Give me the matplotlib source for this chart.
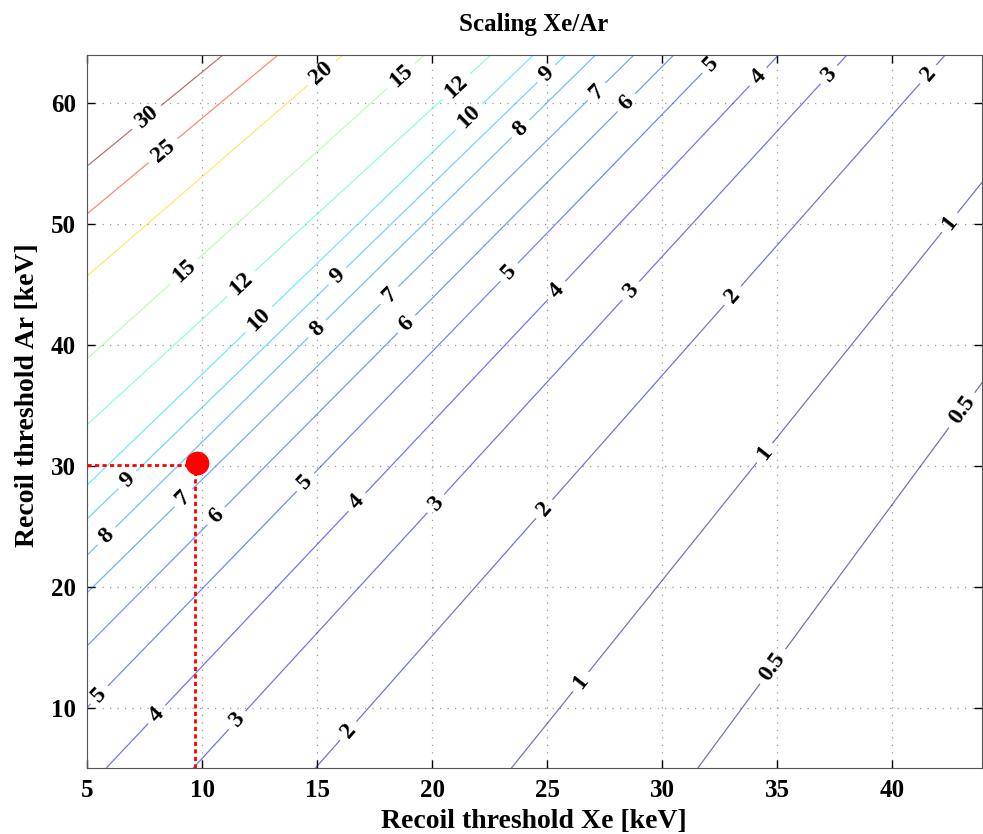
import numpy as np
import matplotlib
matplotlib.use('Agg')
import matplotlib.pyplot as plt
from matplotlib.colors import Normalize

plt.rcParams['font.family'] = ['Liberation Serif', 'DejaVu Serif']
plt.rcParams['font.weight'] = 'bold'

# iso-lines of the Xe/Ar scaling factor
levels = [0.5, 1, 2, 3, 4, 5, 6, 7, 8, 9, 10, 12, 15, 20, 25, 30]
# two points on every iso-line (Xe threshold, Ar threshold) in keV
xa = [31.55, 23.45, 14.93, 9.62, 5.84, 5, 5, 5, 5, 5, 5, 5, 5, 5, 5, 5]
ya = [5, 5, 5, 5, 5, 10.0, 15.1, 19.5, 22.6, 25.6, 28.4, 33.4, 38.85, 45.7, 50.85, 54.8]
xb = [39.40, 39.40, 42.30, 38.03, 35.06, 32.5, 30.5, 28.77, 27.1, 25.8, 24.4, 22.55, 19.66, 16.12, 13.30, 10.91]
yb = [25.26, 42.80, 64, 64, 64, 64, 64, 64, 64, 64, 64, 64, 64, 64, 64, 64]

# chosen working point
xe_point = 9.7
ar_point = 30.05

# where the inline labels go
label_pos = [
    (7.65, 58.7), (8.25, 56.2), (15.24, 62.4),
    (18.58, 62.4), (9.16, 46.26),
    (21.1, 61.3), (11.64, 45.18),
    (21.49, 59.09), (12.38, 42.28),
    (25.0, 62.4), (15.59, 46.26), (6.65, 29.04),
    (23.79, 58.0), (14.8, 41.7), (5.78, 24.32),
    (27.13, 61.0), (18.02, 44.35), (9.03, 27.63),
    (28.43, 60.08), (19.36, 40.88), (10.55, 25.98),
    (32.12, 63.23), (23.22, 46.26), (14.37, 28.87), (5.56, 11.0),
    (34.2, 62.15), (25.13, 45.0), (16.5, 27.4), (8.04, 9.42),
    (37.23, 62.4), (28.47, 44.77), (19.97, 27.2), (11.5, 9.0),
    (41.57, 62.4), (32.9, 44.35), (24.65, 26.8), (16.19, 8.34),
    (42.66, 49.9), (34.54, 30.94), (26.52, 12.07),
    (42.74, 35.0), (35.4, 12.6),
]

# build the field row by row from the iso-lines (log-interpolated in between)
xa, ya, xb, yb = map(np.asarray, (xa, ya, xb, yb))
slope = (yb - ya) / (xb - xa)
loglev = np.log(levels)
xg = np.linspace(4, 45, 600)
yg = np.linspace(4, 65, 600)
X, Y = np.meshgrid(xg, yg)
Z = np.empty_like(X)
for i, y in enumerate(yg):
    xs = xa + (y - ya) / slope
    xp = xs[::-1]
    fp = loglev[::-1]
    # extend past the outermost lines so the field keeps its trend
    left = fp[0] + 40 * (fp[0] - fp[1]) / (xp[1] - xp[0])
    right = fp[-1] - 40 * (fp[-2] - fp[-1]) / (xp[-1] - xp[-2])
    xp = np.concatenate(([xp[0] - 40], xp, [xp[-1] + 40]))
    fp = np.concatenate(([left], fp, [right]))
    Z[i] = np.exp(np.interp(xg, xp, fp))

fig = plt.figure(figsize=(9.83, 8.34), dpi=100)
ax = fig.add_axes([87 / 983, 66 / 834, 895 / 983, 713 / 834])

cs = ax.contour(X, Y, Z, levels=levels, cmap='jet', norm=Normalize(0.5, 29),
                linewidths=0.9, alpha=0.55)
labels = ax.clabel(cs, fmt='%g', manual=label_pos, inline=True,
                   inline_spacing=6, fontsize=17, colors='k')
for t in labels:
    t.set_alpha(1)

ax.plot([5, xe_point], [ar_point, ar_point], color='red', lw=2,
        linestyle=(0, (1.5, 1.2)), zorder=5)
ax.plot([xe_point, xe_point], [5, ar_point], color='red', lw=2,
        linestyle=(0, (1.5, 1.2)), zorder=5)
ax.plot(xe_point + 0.1, ar_point + 0.15, 'o', color='red', ms=16, zorder=6)

ax.set_xlim(5, 43.9)
ax.set_ylim(5, 64)
ax.set_xticks(range(5, 45, 5))
ax.set_yticks(range(10, 65, 10))
ax.grid(True, color='#999999', linestyle=(0, (1, 5)), linewidth=0.9)
ax.tick_params(direction='in', top=True, right=True, length=6, width=1,
               labelsize=18, pad=8)
for s in ax.spines.values():
    s.set_color('#555555')

fig.text(534 / 983, 1 - 25 / 834, 'Scaling Xe/Ar', ha='center', va='center',
         fontsize=18)
fig.text(534 / 983, 1 - 821 / 834, 'Recoil threshold Xe [keV]', ha='center',
         va='center', fontsize=20)
fig.text(28 / 983, 1 - 395 / 834, 'Recoil threshold Ar [keV]', ha='center',
         va='center', rotation=90, fontsize=20)

fig.savefig('out.png', dpi=100)
